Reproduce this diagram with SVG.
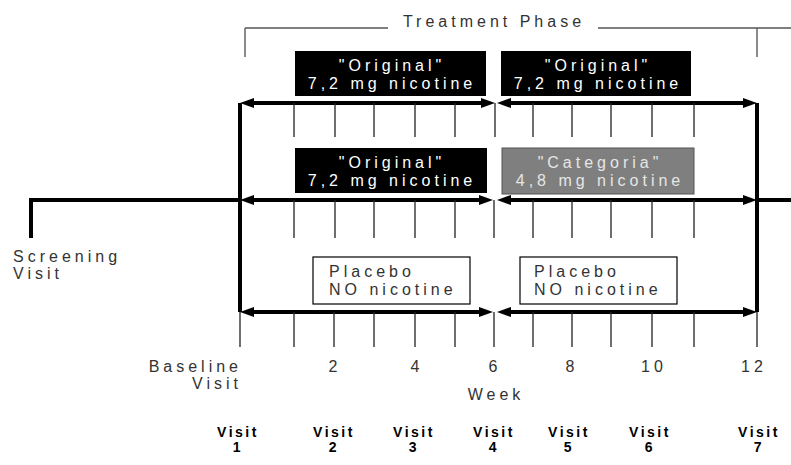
<svg xmlns="http://www.w3.org/2000/svg" width="791" height="465" viewBox="0 0 791 465">
<style>
text{font-family:"Liberation Sans",Arial,sans-serif;font-size:16px;letter-spacing:4px;fill:#333}
.w{fill:#fff}
.lg{fill:#e6e6e6}
.c{text-anchor:middle}
.e{text-anchor:end}
.v{font-size:14px;font-weight:bold;letter-spacing:2.5px;fill:#000;text-anchor:middle}
.thick{stroke:#000;stroke-width:4;fill:none}
.arr{stroke:#000;stroke-width:4;fill:none;marker-start:url(#ah);marker-end:url(#ah)}
.tick{stroke:#222;stroke-width:1.3;fill:none}
.br{stroke:#000;stroke-width:1.2;fill:none}
.brv{stroke:#666;stroke-width:1.5;fill:none}
.blk{fill:#000}
.gry{fill:#7f7f7f;stroke:#555;stroke-width:1}
.plc{fill:#fff;stroke:#000;stroke-width:1.2}
</style>
<defs>
<marker id="ah" viewBox="0 0 14 10" refX="4" refY="5" markerWidth="14" markerHeight="10" markerUnits="userSpaceOnUse" orient="auto-start-reverse">
<path d="M0,0 L14,5 L0,10 z" fill="#000"/>
</marker>
</defs>

<g id="treatment-phase">
<path class="br" d="M245,28 H388 M598,28 H791"/>
<path class="brv" d="M245,28 V57 M757,28 V57"/>
<text x="494" y="27" class="c">Treatment Phase</text>
</g>

<g id="connectors">
<path class="thick" d="M240,103 V312 M757,103 V312"/>
<path class="thick" d="M31,238 V200 H240 M757,200 H791"/>
<line class="arr" x1="250" y1="103" x2="485" y2="103"/>
<line class="arr" x1="507" y1="103" x2="747" y2="103"/>
<line class="arr" x1="250" y1="200" x2="483" y2="200"/>
<line class="arr" x1="507" y1="200" x2="747" y2="200"/>
<line class="arr" x1="250" y1="312" x2="483" y2="312"/>
<line class="arr" x1="507" y1="312" x2="747" y2="312"/>
<path class="tick" d="M294,103 V137 M335,103 V137 M374,103 V137 M415,103 V137 M455,103 V137 M495,103 V137 M533,103 V137 M572,103 V137 M611,103 V137 M652,103 V137 M694,103 V137"/>
<path class="tick" d="M294,200 V238 M335,200 V238 M374,200 V238 M415,200 V238 M455,200 V238 M494,200 V238 M533,200 V238 M572,200 V238 M611,200 V238 M652,200 V238 M694,200 V238"/>
<path class="tick" d="M240,312 V347 M294,312 V347 M334,312 V347 M374,312 V347 M415,312 V347 M455,312 V347 M494,312 V347 M533,312 V347 M572,312 V347 M611,312 V347 M652,312 V347 M694,312 V347 M757,312 V347"/>
</g>

<g id="box-original-1a">
<rect class="blk" x="295" y="51" width="191" height="45"/>
<text x="392" y="71" class="c w">"Original"</text>
<text x="392" y="89" class="c w">7,2 mg nicotine</text>
</g>
<g id="box-original-1b">
<rect class="blk" x="501" y="51" width="190" height="45"/>
<text x="598" y="71" class="c w">"Original"</text>
<text x="598" y="89" class="c w">7,2 mg nicotine</text>
</g>
<g id="box-original-2a">
<rect class="blk" x="295" y="148" width="192" height="45"/>
<text x="392" y="168" class="c w">"Original"</text>
<text x="392" y="186" class="c w">7,2 mg nicotine</text>
</g>
<g id="box-categoria">
<rect class="gry" x="502" y="148" width="192" height="46"/>
<text x="600" y="168" class="c lg">"Categoria"</text>
<text x="600" y="186" class="c lg">4,8 mg nicotine</text>
</g>
<g id="box-placebo-a">
<rect class="plc" x="313" y="257" width="157" height="47"/>
<text x="329" y="277">Placebo</text>
<text x="329" y="295">NO nicotine</text>
</g>
<g id="box-placebo-b">
<rect class="plc" x="520" y="257" width="157" height="47"/>
<text x="534" y="277">Placebo</text>
<text x="534" y="295">NO nicotine</text>
</g>

<g id="screening-visit">
<text x="13" y="262">Screening</text>
<text x="13" y="279">Visit</text>
</g>

<g id="week-axis">
<text x="242" y="372" class="e">Baseline</text>
<text x="242" y="389" class="e">Visit</text>
<text x="335" y="372" class="c">2</text>
<text x="417" y="372" class="c">4</text>
<text x="495" y="372" class="c">6</text>
<text x="572" y="372" class="c">8</text>
<text x="654" y="372" class="c">10</text>
<text x="754" y="372" class="c">12</text>
<text x="496" y="400" class="c">Week</text>
</g>

<g id="visits">
<text x="238" y="437" class="v">Visit</text><text x="238" y="452" class="v">1</text>
<text x="334" y="437" class="v">Visit</text><text x="334" y="452" class="v">2</text>
<text x="414" y="437" class="v">Visit</text><text x="414" y="452" class="v">3</text>
<text x="494" y="437" class="v">Visit</text><text x="494" y="452" class="v">4</text>
<text x="569" y="437" class="v">Visit</text><text x="569" y="452" class="v">5</text>
<text x="650" y="437" class="v">Visit</text><text x="650" y="452" class="v">6</text>
<text x="759" y="437" class="v">Visit</text><text x="759" y="452" class="v">7</text>
</g>
</svg>
